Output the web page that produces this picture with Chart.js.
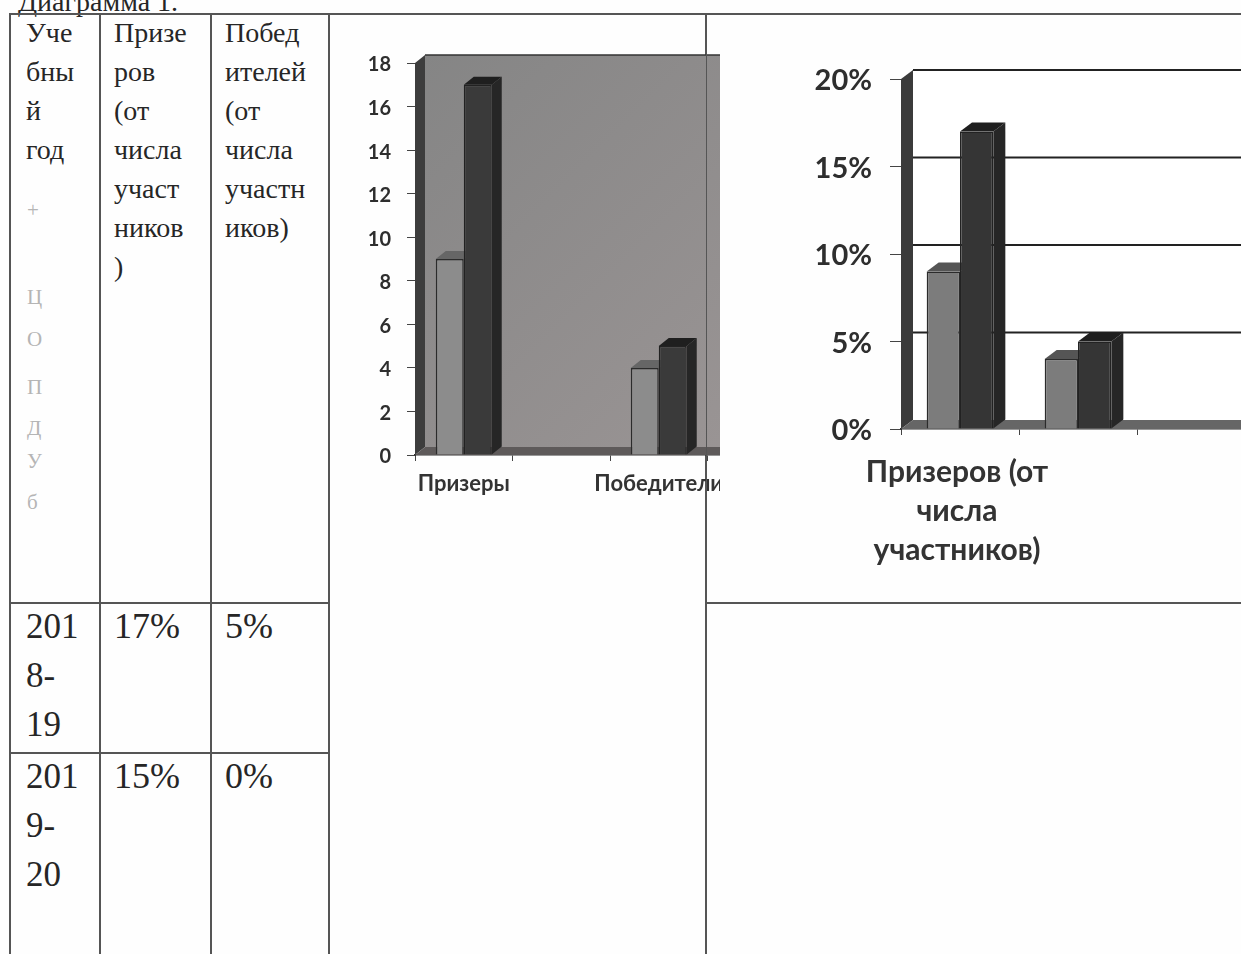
<!DOCTYPE html>
<html lang="ru">
<head>
<meta charset="utf-8">
<title>Диаграмма 1</title>
<script src="https://cdn.jsdelivr.net/npm/chart.js@4/dist/chart.umd.min.js"></script>
<style>
html, body { margin: 0; padding: 0; background: #fefefe; width: 1241px; height: 954px; overflow: hidden; }
body { position: relative; font-family: "Liberation Serif", serif; color: #262626; filter: blur(0.45px); }
#caption { position: absolute; left: 18px; top: -13px; font-size: 28px; line-height: 30px; }
table { position: absolute; left: 9px; top: 13px; border-collapse: collapse; table-layout: fixed; width: 1236px; }
td { border: 2px solid #555; vertical-align: top; padding: 0 0 0 13px; }
td div { margin-top: -2px; }
td.head { font-size: 28px; line-height: 39px; }
td.year { font-size: 35px; line-height: 49px; padding-left: 15px; }
td.num { font-size: 36px; line-height: 49px; }
td.none { border: none; }
.stamp { position: absolute; left: 27px; font-size: 21px; color: #b5b5b5; }
.clip { position: absolute; overflow: hidden; }
#seam { position: absolute; left: 705.5px; top: 14px; width: 1.5px; height: 940px; background: #555; }
</style>
</head>
<body>
<div id="caption">Диаграмма 1.</div>
<table>
  <colgroup><col style="width:90px"><col style="width:111px"><col style="width:118px"><col style="width:377px"><col style="width:540px"></colgroup>
  <tr style="height:589px">
    <td class="head" style="padding-left:15px"><div>Уче<br>бны<br>й<br>год</div></td>
    <td class="head"><div>Призе<br>ров<br>(от<br>числа<br>участ<br>ников<br>)</div></td>
    <td class="head"><div>Побед<br>ителей<br>(от<br>числа<br>участн<br>иков)</div></td>
    <td rowspan="3"></td>
    <td></td>
  </tr>
  <tr style="height:150px">
    <td class="year"><div>201<br>8-<br>19</div></td>
    <td class="num"><div>17%</div></td>
    <td class="num"><div>5%</div></td>
    <td class="none"></td>
  </tr>
  <tr style="height:300px">
    <td class="year"><div>201<br>9-<br>20</div></td>
    <td class="num"><div>15%</div></td>
    <td class="num"><div>0%</div></td>
    <td class="none"></td>
  </tr>
</table>
<div class="stamp" style="top:198px">+</div>
<div class="stamp" style="top:285px">Ц</div>
<div class="stamp" style="top:327px">О</div>
<div class="stamp" style="top:375px">П</div>
<div class="stamp" style="top:416px">Д</div>
<div class="stamp" style="top:449px">У</div>
<div class="stamp" style="top:490px">б</div>

<div class="clip" style="left:340px;top:40px;width:380px;height:470px">
  <canvas id="chartCount" width="465" height="470"></canvas>
</div>
<div id="seam"></div>
<div class="clip" style="left:790px;top:50px;width:451px;height:530px">
  <canvas id="chartShare" width="465" height="529"></canvas>
</div>

<script>
// Первая диаграмма: количество
const countCategories = ['Призеры', '', 'Победители', ''];
const countLight = [9, null, 4, null];
const countDark = [17, null, 5, null];
const countTicks = [0, 2, 4, 6, 8, 10, 12, 14, 16, 18];

// Вторая диаграмма: проценты
const shareCategories = [['Призеров (от', 'числа', 'участников)'], '', ''];
const shareLight = [9, 4, null];
const shareDark = [17, 5, null];
const shareTicks = [0, 5, 10, 15, 20];

// Рисует стены, пол и боковые грани столбцов, чтобы получился объём
const depthPlugin = {
    id: 'depth',
    beforeDatasetsDraw(chart, args, opts) {
        const ctx = chart.ctx;
        const { left, right, top, bottom } = chart.chartArea;
        const dx = opts.dx, dy = opts.dy;

        // задняя стена
        if (opts.wallFrom) {
            const g = ctx.createLinearGradient(left, top, right, bottom);
            g.addColorStop(0, opts.wallFrom);
            g.addColorStop(1, opts.wallTo);
            ctx.fillStyle = g;
            ctx.fillRect(left + dx, top - dy, right - left, bottom - top);
            ctx.strokeStyle = '#333';
            ctx.lineWidth = 1.5;
            ctx.beginPath();
            ctx.moveTo(left + dx, top - dy);
            ctx.lineTo(right + dx, top - dy);
            ctx.stroke();
        }

        // линии сетки на задней стене
        if (opts.gridColor) {
            ctx.strokeStyle = opts.gridColor;
            ctx.lineWidth = 2;
            chart.scales.y.ticks.forEach(t => {
                if (t.value === 0) return;
                const y = chart.scales.y.getPixelForValue(t.value) - dy;
                ctx.beginPath();
                ctx.moveTo(left + dx, y);
                ctx.lineTo(right + dx, y);
                ctx.stroke();
            });
        }

        // левая стена
        ctx.fillStyle = opts.sideColor;
        ctx.beginPath();
        ctx.moveTo(left, top);
        ctx.lineTo(left + dx, top - dy);
        ctx.lineTo(left + dx, bottom - dy);
        ctx.lineTo(left, bottom);
        ctx.closePath();
        ctx.fill();

        // пол
        ctx.fillStyle = opts.floorColor;
        ctx.beginPath();
        ctx.moveTo(left, bottom);
        ctx.lineTo(left + dx, bottom - dy);
        ctx.lineTo(right + dx, bottom - dy);
        ctx.lineTo(right, bottom);
        ctx.closePath();
        ctx.fill();

        // верх и бок столбцов
        chart.data.datasets.forEach((ds, i) => {
            chart.getDatasetMeta(i).data.forEach((bar, j) => {
                if (ds.data[j] === null) return;
                const l = bar.x - bar.width / 2, r = bar.x + bar.width / 2;
                ctx.fillStyle = opts.sideFaces[i];
                ctx.beginPath();
                ctx.moveTo(r, bar.y);
                ctx.lineTo(r + dx, bar.y - dy);
                ctx.lineTo(r + dx, bar.base - dy);
                ctx.lineTo(r, bar.base);
                ctx.closePath();
                ctx.fill();
                ctx.fillStyle = opts.topFaces[i];
                ctx.beginPath();
                ctx.moveTo(l, bar.y);
                ctx.lineTo(l + dx, bar.y - dy);
                ctx.lineTo(r + dx, bar.y - dy);
                ctx.lineTo(r, bar.y);
                ctx.closePath();
                ctx.fill();
            });
        });
    }
};

function makeChart(id, categories, light, dark, tickValues, cfg) {
    return new Chart(document.getElementById(id), {
        type: 'bar',
        plugins: [depthPlugin],
        data: {
            labels: categories,
            datasets: [
                { label: 'Ряд 1', data: light, backgroundColor: cfg.lightColor, borderColor: '#2b2b2b', borderWidth: 1.5 },
                { label: 'Ряд 2', data: dark, backgroundColor: cfg.darkColor, borderColor: '#222', borderWidth: 1.5 }
            ]
        },
        options: {
            responsive: false,
            animation: false,
            devicePixelRatio: 1,
            layout: { padding: { top: cfg.top } },
            datasets: { bar: { categoryPercentage: cfg.groupShare, barPercentage: 1 } },
            plugins: {
                legend: { display: false },
                tooltip: { enabled: false },
                depth: cfg.depth
            },
            scales: {
                x: {
                    afterFit(scale) { scale.height = cfg.xHeight; },
                    grid: { drawOnChartArea: false, tickLength: 6, color: '#444', offset: true },
                    border: { color: '#333', width: 1.5 },
                    ticks: {
                        autoSkip: false, maxRotation: 0, minRotation: 0,
                        padding: cfg.xPad, labelOffset: cfg.xShift, color: '#333',
                        font: { family: 'Lato', weight: 'bold', size: cfg.xFont, lineHeight: cfg.xLine }
                    }
                },
                y: {
                    min: tickValues[0],
                    max: tickValues[tickValues.length - 1],
                    afterFit(scale) {
                        scale.width = cfg.yWidth;
                        scale.paddingTop = 0;
                        scale.paddingBottom = 0;
                    },
                    afterBuildTicks(scale) { scale.ticks = tickValues.map(v => ({ value: v })); },
                    grid: { drawOnChartArea: false, tickLength: cfg.tickLen, color: '#444' },
                    border: { color: '#333', width: 1 },
                    ticks: {
                        padding: cfg.yPad, labelOffset: 2, color: '#2e2e2e',
                        font: { family: 'Lato', weight: 'bold', size: cfg.yFont },
                        callback: v => v + cfg.suffix
                    }
                }
            }
        }
    });
}

makeChart('chartCount', countCategories, countLight, countDark, countTicks, {
    top: 23, xHeight: 55, yWidth: 75, groupShare: 0.574, tickLen: 8,
    xPad: 10, xShift: 0, xFont: 22, xLine: 1.2, yPad: 16, yFont: 20, suffix: '',
    lightColor: '#8c8c8c', darkColor: '#3a3a3a',
    depth: {
        dx: 10, dy: 8, wallFrom: '#858585', wallTo: '#9c9696', gridColor: null,
        sideColor: '#3d3d3d', floorColor: '#5e5a5a',
        sideFaces: ['#555', '#262626'], topFaces: ['#666', '#1f1f1f']
    }
});

makeChart('chartShare', shareCategories, shareLight, shareDark, shareTicks, {
    top: 29, xHeight: 150, yWidth: 111, groupShare: 0.565, tickLen: 11,
    xPad: 18, xShift: -3, xFont: 30, xLine: 1.3, yPad: 18, yFont: 29, suffix: '%',
    lightColor: '#7c7c7c', darkColor: '#353535',
    depth: {
        dx: 12, dy: 9, wallFrom: '#ffffff', wallTo: '#ffffff', gridColor: '#222',
        sideColor: '#3b3b3b', floorColor: '#666',
        sideFaces: ['#555', '#262626'], topFaces: ['#555', '#1f1f1f']
    }
});
</script>
</body>
</html>
